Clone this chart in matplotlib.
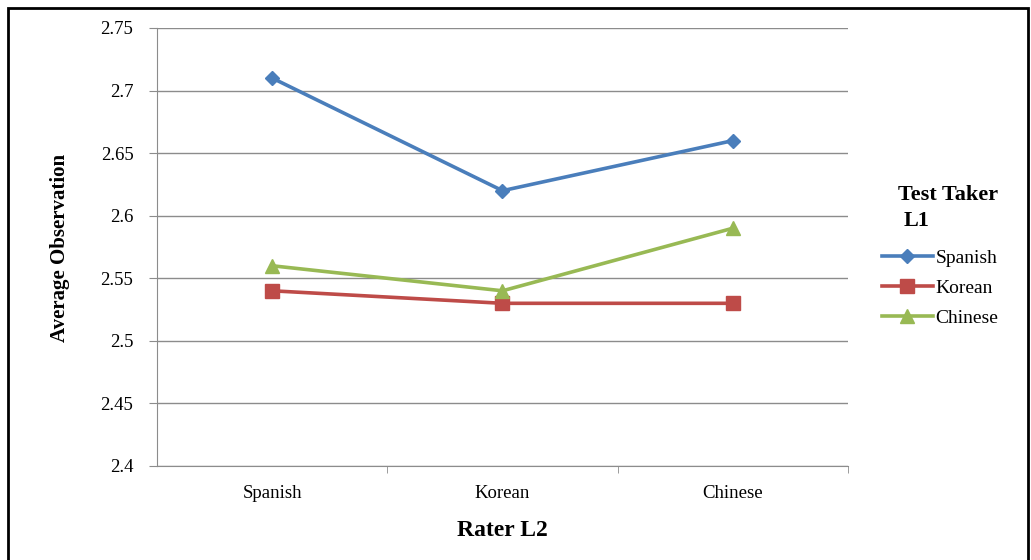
import matplotlib
matplotlib.use("Agg")
import matplotlib.pyplot as plt
import matplotlib.patches as patches

# rater L2 groups and average observation by test taker L1
raters = ['Spanish', 'Korean', 'Chinese']
spanish = [2.71, 2.62, 2.66]
korean = [2.54, 2.53, 2.53]
chinese = [2.56, 2.54, 2.59]
yticks = [2.4, 2.45, 2.5, 2.55, 2.6, 2.65, 2.7, 2.75]
ytick_labels = ['2.4', '2.45', '2.5', '2.55', '2.6', '2.65', '2.7', '2.75']

plt.rcParams['font.family'] = ['Liberation Serif', 'DejaVu Serif']

W, H = 1031, 560
fig = plt.figure(figsize=(W / 100, H / 100), dpi=100)
fig.patch.set_facecolor('white')

# outer border
fig.patches.append(patches.Rectangle((8 / W, -0.02), 1020 / W, (552 / H) + 0.02,
                                     transform=fig.transFigure, fill=False,
                                     edgecolor='black', linewidth=2))

ax = fig.add_axes([157 / W, (H - 466) / H, (848 - 157) / W, (466 - 28) / H])
x = list(range(len(raters)))
ax.plot(x, spanish, color='#4A7EBB', lw=2.6, marker='D', ms=7.5, label='Spanish')
ax.plot(x, korean, color='#BE4B48', lw=2.6, marker='s', ms=10, label='Korean')
ax.plot(x, chinese, color='#98B954', lw=2.6, marker='^', ms=10, label='Chinese')

ax.set_xlim(-0.5, 2.5)
ax.set_ylim(2.4, 2.75)
ax.set_yticks(yticks)
ax.set_yticklabels(ytick_labels, fontsize=13.5)
ax.yaxis.grid(True, color='#8c8c8c', lw=1)
ax.set_axisbelow(True)

ax.set_xticks(x)
ax.set_xticklabels(raters, fontsize=13.5)
ax.tick_params(axis='x', length=0, pad=14)
ax.set_xticks([0.5, 1.5, 2.5], minor=True)
ax.tick_params(axis='x', which='minor', length=5, color='#8c8c8c', direction='out')
ax.tick_params(axis='y', length=6, color='#8c8c8c', pad=11)

for s in ['top', 'right']:
    ax.spines[s].set_visible(False)
ax.spines['left'].set_color('#8c8c8c')
ax.spines['bottom'].set_color('#8c8c8c')

fig.text(60 / W, 1 - 248 / H, 'Average Observation', rotation=90, ha='center',
         va='center', fontsize=15, fontweight='bold')
fig.text(502 / W, 1 - 530 / H, 'Rater L2', ha='center', va='center',
         fontsize=17, fontweight='bold')

fig.text(898 / W, 1 - 195 / H, 'Test Taker', ha='left', va='center',
         fontsize=16, fontweight='bold')
fig.text(904 / W, 1 - 221 / H, 'L1', ha='left', va='center',
         fontsize=16, fontweight='bold')

leg = ax.legend(loc='upper left', bbox_to_anchor=(882 / W, 1 - 249 / H),
                bbox_transform=fig.transFigure, frameon=False, fontsize=14,
                handlelength=2.6, handletextpad=0.15, labelspacing=0.65,
                borderaxespad=0, borderpad=0)

fig.savefig('out.png', dpi=100)
